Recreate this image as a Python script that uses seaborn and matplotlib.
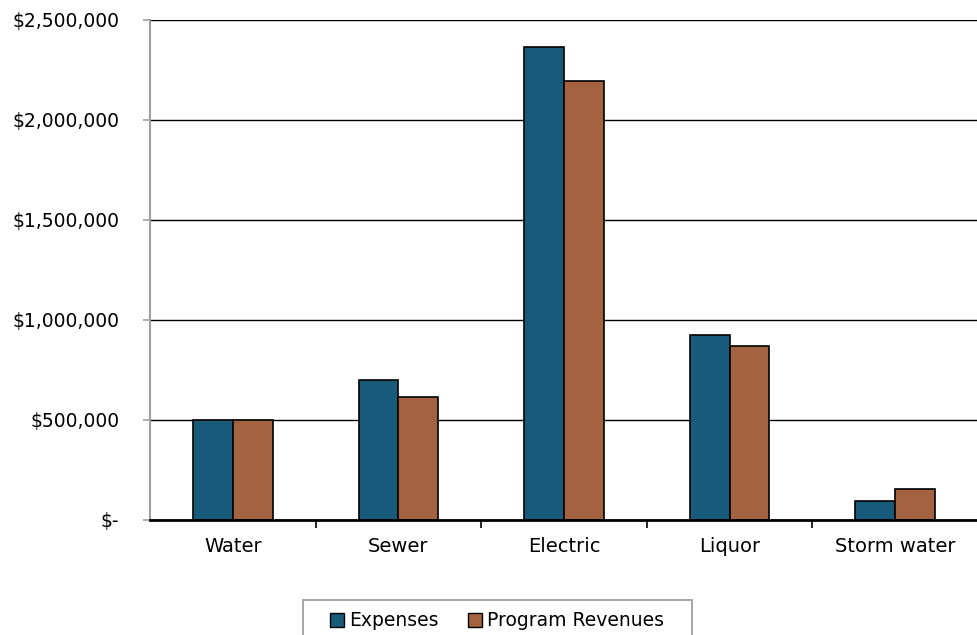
import matplotlib
matplotlib.use("Agg")
import matplotlib.pyplot as plt
import seaborn as sns
import pandas as pd
from matplotlib.patches import Patch, Rectangle
from matplotlib.ticker import FuncFormatter, FixedLocator

categories = ["Water", "Sewer", "Electric", "Liquor", "Storm water"]
expenses = [500000, 700000, 2363000, 923000, 95000]
revenues = [500000, 615000, 2195000, 870000, 156000]
series = ["Expenses", "Program Revenues"]
colors = ["#175A7A", "#A36340"]

df = pd.DataFrame({
    "Category": categories * 2,
    "Value": expenses + revenues,
    "Series": [series[0]] * len(categories) + [series[1]] * len(categories),
})

sns.set_theme(style="white")
plt.rcParams["font.family"] = ["DejaVu Sans"]

fig = plt.figure(figsize=(9.78, 6.35), dpi=100)
ax = fig.add_axes([150 / 978, 1 - 520 / 635, 828 / 978, 500 / 635])

sns.barplot(data=df, x="Category", y="Value", hue="Series", palette=colors,
            width=0.48, edgecolor="black", linewidth=1.2, saturation=1,
            ax=ax, legend=False, zorder=3)

ax.set_xlim(-0.5, 4.5)
ax.set_ylim(0, 2500000)
ax.set_yticks([0, 500000, 1000000, 1500000, 2000000, 2500000])

def fmt(v, pos):
    if v == 0:
        return "$-"
    return "${:,.0f}".format(v)

ax.yaxis.set_major_formatter(FuncFormatter(fmt))
ax.grid(axis="y", color="black", linewidth=1.0, zorder=0)
ax.set_axisbelow(True)
ax.set_xlabel("")
ax.set_ylabel("")

for s in ["top", "right"]:
    ax.spines[s].set_visible(False)
ax.spines["left"].set_color("#A0A0A0")
ax.spines["left"].set_linewidth(1.5)
ax.spines["bottom"].set_color("black")
ax.spines["bottom"].set_linewidth(2)
ax.spines["bottom"].set_zorder(5)

ax.tick_params(axis="y", which="major", left=True, length=5, width=1.2,
               color="#A0A0A0", labelsize=13.5, pad=17, labelcolor="black")
ax.tick_params(axis="x", which="major", length=0, labelsize=14, pad=12,
               labelcolor="black")
ax.xaxis.set_minor_locator(FixedLocator([0.5, 1.5, 2.5, 3.5]))
ax.tick_params(axis="x", which="minor", bottom=True, length=6, width=1.2,
               color="black")

# legend frame box (extends beyond bottom of figure as in reference)
frame = Rectangle((303 / 978, -0.05), (692 - 303) / 978, (635 - 600) / 635 + 0.05,
                  transform=fig.transFigure, facecolor="white",
                  edgecolor="#A0A0A0", linewidth=1.3, zorder=1)
fig.patches.append(frame)

handles = [Patch(facecolor=c, edgecolor="black", linewidth=1) for c in colors]
leg = fig.legend(handles, series, loc="upper center",
                 bbox_to_anchor=(497 / 978, 1 - 602 / 635), ncol=2,
                 frameon=False, fontsize=13.5, handlelength=0.75,
                 handleheight=0.75, handletextpad=0.25, columnspacing=1.6,
                 borderpad=0.5, borderaxespad=0, labelcolor="black")

fig.savefig("out.png", dpi=100)
